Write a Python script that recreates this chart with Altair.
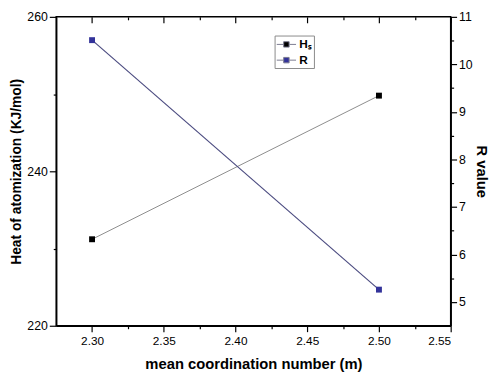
import altair as alt
import pandas as pd

# ---- data ----
m_values = [2.30, 2.50]
heat_values = [231.2, 249.8]
r_values = [10.51, 5.26]
series_names = ["Hₛ", "R"]
series_colors = ["#000000", "#33339a"]
x_ticks = [2.30, 2.325, 2.35, 2.375, 2.40, 2.425, 2.45, 2.475, 2.50, 2.525, 2.55]
left_ticks = [220, 230, 240, 250, 260]
right_ticks = [5, 5.5, 6, 6.5, 7, 7.5, 8, 8.5, 9, 9.5, 10, 10.5, 11]

df = pd.DataFrame({
    "m": m_values, "H": heat_values, "R": r_values,
    "sH": [series_names[0]] * len(m_values),
    "sR": [series_names[1]] * len(m_values),
})

W, H = 401, 314
FONT = "Liberation Sans"

x_scale = alt.Scale(domain=[2.275, 2.55], nice=False, zero=False)
left_scale = alt.Scale(domain=[220, 260], nice=False, zero=False)
right_scale = alt.Scale(domain=[4.5, 11], nice=False, zero=False)
color_scale = alt.Scale(domain=series_names, range=series_colors)

x_major = "round(datum.value*1000) % 50 == 0"
x_tick_size = {"condition": {"test": x_major, "value": 6}, "value": 3}

bottom_axis = alt.Axis(
    orient="bottom", values=x_ticks, title="mean coordination number (m)",
    labelExpr=f"{x_major} ? format(datum.value, '.2f') : ''",
    tickSize=x_tick_size, labelPadding=4, titlePadding=10,
)
top_axis = alt.Axis(
    orient="bottom", offset=-H, values=x_ticks, labels=False, domain=False,
    title=None, tickSize=x_tick_size,
)
left_axis = alt.Axis(
    orient="left", values=left_ticks, title="Heat of atomization (KJ/mol)",
    labelExpr="datum.value % 20 == 0 ? format(datum.value, 'd') : ''",
    tickSize={"condition": {"test": "datum.value % 20 == 0", "value": 7}, "value": 3},
    labelPadding=2, labelFontSize=12.5,
    titleX=-40, titleBaseline="middle", titleFontSize=14,
)
right_axis = alt.Axis(
    orient="right", values=right_ticks, title="R value",
    labelExpr="datum.value % 1 == 0 ? format(datum.value, 'd') : ''",
    tickSize={"condition": {"test": "datum.value % 1 == 0", "value": 6}, "value": 3},
    labelPadding=2, labelFontSize=12.5,
    titleX=31, titleBaseline="middle", titleFontSize=15,
)

legend = alt.Legend(
    orient="none", legendX=222, legendY=19, title=None,
    fillColor="white", strokeColor="#8a8a8a", padding=2,
    symbolType="M-1.6,0H-0.5M0.5,0H1.6M-0.45,-0.45H0.45V0.45H-0.45Z",
    symbolSize=150, symbolStrokeWidth=1, symbolStrokeColor="#7a7a90",
    symbolOffset=3, labelOffset=6,
    labelFont=FONT, labelFontWeight="bold", labelFontSize=12, labelColor="black",
    rowPadding=3,
)

base = alt.Chart(df)

h_line = base.mark_line(color="#8c8c8c", strokeWidth=1).encode(
    x=alt.X("m:Q", scale=x_scale, axis=bottom_axis),
    y=alt.Y("H:Q", scale=left_scale, axis=left_axis),
)
h_pts = base.mark_point(shape="square", filled=True, size=36, opacity=1).encode(
    x=alt.X("m:Q", scale=x_scale, axis=top_axis),
    y=alt.Y("H:Q", scale=left_scale, axis=None),
    color=alt.Color("sH:N", scale=color_scale, legend=legend),
)
r_line = base.mark_line(color="#4b4b80", strokeWidth=1.2).encode(
    x=alt.X("m:Q", scale=x_scale, axis=None),
    y=alt.Y("R:Q", scale=right_scale, axis=right_axis),
)
r_pts = base.mark_point(shape="square", filled=True, size=36, opacity=1).encode(
    x=alt.X("m:Q", scale=x_scale, axis=None),
    y=alt.Y("R:Q", scale=right_scale, axis=None),
    color=alt.Color("sR:N", scale=color_scale, legend=legend),
)

chart = (
    alt.layer(h_line, h_pts, r_line, r_pts)
    .resolve_scale(y="independent")
    .resolve_axis(x="independent", y="independent")
    .properties(
        width=W, height=H,
        autosize=alt.AutoSizeParams(type="none"),
        padding={"left": 49, "top": 6, "right": 42, "bottom": 44},
        background="white",
    )
    .configure_view(stroke="black", strokeWidth=1.5)
    .configure_axis(
        domainColor="black", domainWidth=1.5, tickColor="black", tickWidth=1.2,
        labelFont=FONT, labelFontSize=12, labelColor="black",
        titleFont=FONT, titleFontSize=15, titleFontWeight="bold", titleColor="black",
        grid=False,
    )
)

chart.save("out.html", embed_options={"renderer": "svg", "actions": False})
